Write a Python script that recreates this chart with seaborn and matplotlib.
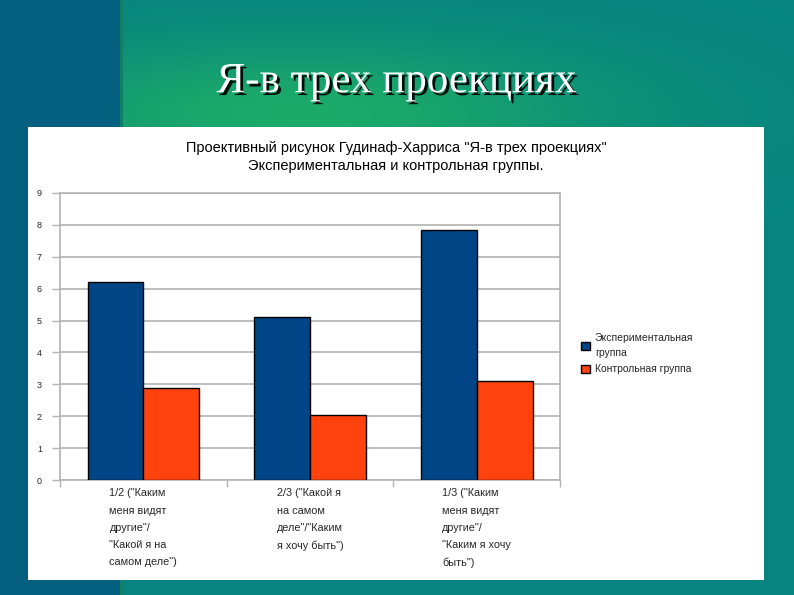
import numpy as np
import pandas as pd
import matplotlib
matplotlib.use("Agg")
import matplotlib.pyplot as plt
import matplotlib.patheffects as pe
from matplotlib.patches import Rectangle
import seaborn as sns

categories = [
    '1/2 ("Каким\nменя видят\nдругие"/\n"Какой я на\nсамом деле")',
    '2/3 ("Какой я\nна самом\nделе"/"Каким\nя хочу быть")',
    '1/3 ("Каким\nменя видят\nдругие"/\n"Каким я хочу\nбыть")',
]
groups = ["Экспериментальная\nгруппа", "Контрольная группа"]
exp_values = [6.2, 5.1, 7.85]
ctrl_values = [2.9, 2.05, 3.1]
y_ticks = list(range(0, 10))

df = pd.DataFrame({
    "cat": categories * 2,
    "group": [groups[0]] * 3 + [groups[1]] * 3,
    "value": exp_values + ctrl_values,
})

sns.set_theme(style="white")
plt.rcParams['font.family'] = ['Liberation Sans', 'DejaVu Sans']

fig = plt.figure(figsize=(7.94, 5.95), dpi=100)

# фон слайда
bg = fig.add_axes([0, 0, 1, 1])
W, H = 794, 595
xx = np.linspace(0, 1, W)[None, :]
yy = np.linspace(0, 1, H)[:, None]
teal = np.array([0.03, 0.52, 0.50])
green = np.array([0.11, 0.67, 0.41])
mix = np.exp(-((xx - 0.38) / 0.38) ** 2) * np.exp(-((yy - 0.19) / 0.12) ** 2)
img = teal[None, None, :] * (1 - mix[..., None]) + green[None, None, :] * mix[..., None]
left = np.array([0.02, 0.38, 0.50])
img[:, :120] = left
img[:, 120:123] = [0.06, 0.50, 0.40]
bg.imshow(img, aspect="auto", extent=[0, 1, 0, 1])
bg.set_xlim(0, 1)
bg.set_ylim(0, 1)
bg.axis("off")

fig.patches.append(Rectangle((28 / W, 15 / H), 736 / W, 453 / H,
                             transform=fig.transFigure, facecolor="white",
                             edgecolor="none", zorder=1))

fig.text(396 / W, 1 - 82 / H, "Я-в трех проекциях", ha="center", va="center",
         fontsize=31, color="white", family="Liberation Serif", zorder=3,
         path_effects=[pe.withSimplePatchShadow(offset=(2, -2), shadow_rgbFace="black", alpha=0.9)])

fig.text(396 / W, 1 - 157 / H,
         'Проективный рисунок Гудинаф-Харриса "Я-в трех проекциях"\nЭкспериментальная и контрольная группы.',
         ha="center", va="center", fontsize=10.5, color="black", linespacing=1.4, zorder=3)

ax = fig.add_axes([60 / W, 1 - 480 / H, 500 / W, 287 / H], zorder=2)
sns.barplot(data=df, x="cat", y="value", hue="group", ax=ax,
            palette=["#004586", "#ff420e"], width=0.67, saturation=1,
            edgecolor="black", linewidth=1, zorder=3)

ax.set_ylim(0, 9)
ax.set_xlim(-0.5, 2.5)
ax.set_yticks(y_ticks)
ax.set_yticklabels([str(t) for t in y_ticks], fontsize=6.5)
ax.yaxis.grid(True, color="#b3b3b3", linewidth=1.2, zorder=0)
ax.set_axisbelow(True)
for s in ax.spines.values():
    s.set_color("#b3b3b3")
    s.set_linewidth(1.2)
ax.tick_params(axis="y", length=6, width=1, color="#b3b3b3", pad=7, direction="out", left=True)
ax.set_xticks([-0.5, 0.5, 1.5, 2.5], minor=True)
ax.tick_params(axis="x", which="minor", length=5, color="#b3b3b3", direction="out", bottom=True)
ax.tick_params(axis="x", which="major", length=0, pad=6)
ax.set_xticklabels(categories, fontsize=7.8, linespacing=1.9, va="top",
                   multialignment="left")
ax.set_xlabel("")
ax.set_ylabel("")

leg = ax.legend(loc="upper left", bbox_to_anchor=(576 / W, 1 - 328 / H),
                bbox_transform=fig.transFigure, frameon=False, fontsize=7.5,
                handlelength=0.8, handleheight=0.8, handletextpad=0.5,
                labelspacing=0.6, borderpad=0)
for t in leg.get_texts():
    t.set_linespacing(1.6)

fig.savefig("out.png", dpi=100)
